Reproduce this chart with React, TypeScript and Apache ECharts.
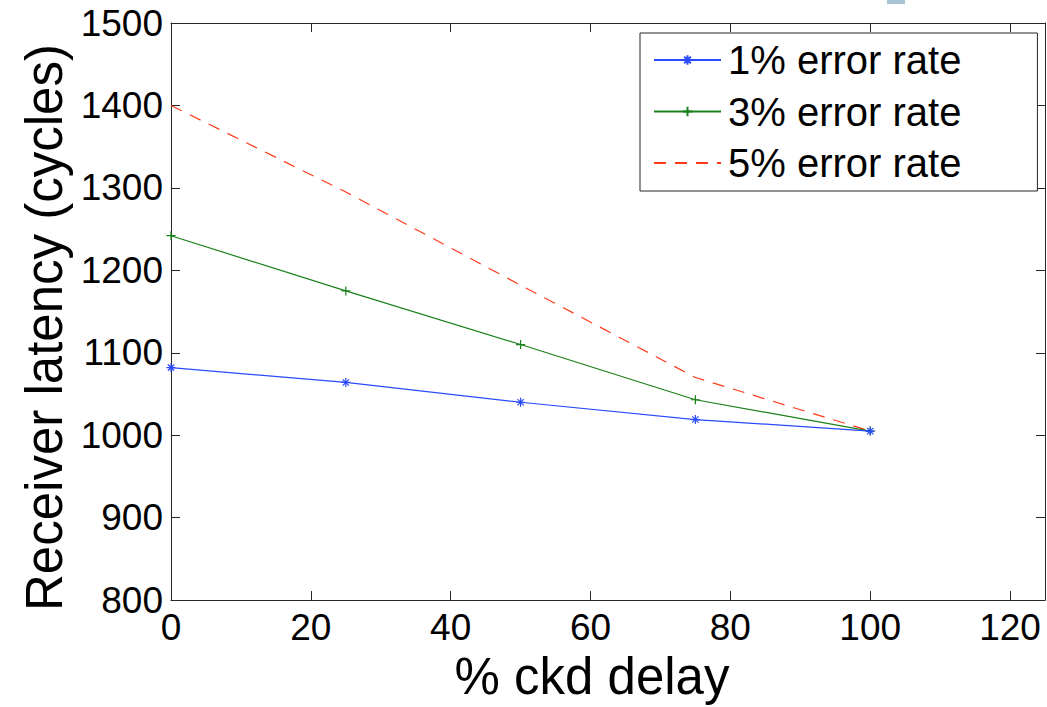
import React, { useEffect, useRef } from "react";
import * as echarts from "echarts";

const xValues = [0, 25, 50, 75, 100];
const err1 = [1082, 1064, 1040, 1019, 1005];
const err3 = [1242, 1175, 1110, 1043, 1005];
const err5 = [1400, 1295, 1182, 1070, 1005];
const seriesNames = ["1% error rate", "3% error rate", "5% error rate"];
const xTicks = [0, 20, 40, 60, 80, 100, 120];
const xTitle = "% ckd delay";
const yTitle = "Receiver latency (cycles)";

const FONT = "'Liberation Sans', Arial, Helvetica, sans-serif";
const AXIS_COLOR = "#262626";
const BLUE = "#2a4bff";
const GREEN = "#1a801a";
const RED = "#ff3a1a";

const ASTERISK = "path://M5,0L5,10M0,5L10,5M1.5,1.5L8.5,8.5M1.5,8.5L8.5,1.5";
const PLUS = "path://M5,0L5,10M0,5L10,5";

function pairs(ys: number[]) {
  return xValues.map((x, i) => [x, ys[i]]);
}

export default function App() {
  const ref = useRef<HTMLDivElement>(null);
  useEffect(() => {
    if (!ref.current) return;
    const chart = echarts.init(ref.current, null, { renderer: "svg" });
    const grid = { left: 171, right: 2, top: 23, bottom: 103, containLabel: false };
    const tickStyle = { inside: true, length: 9, lineStyle: { color: AXIS_COLOR, width: 1 } };
    chart.setOption({
      animation: false,
      backgroundColor: "#ffffff",
      textStyle: { fontFamily: FONT },
      grid,
      legend: {
        left: 640,
        top: 33,
        orient: "vertical",
        data: [
          { name: seriesNames[0] },
          { name: seriesNames[1] },
          { name: seriesNames[2], itemStyle: { opacity: 0 } },
        ],
        itemWidth: 67,
        itemHeight: 12,
        itemGap: 11.5,
        padding: [7, 76, 8, 13],
        borderColor: AXIS_COLOR,
        borderWidth: 1,
        backgroundColor: "#ffffff",
        textStyle: { fontFamily: FONT, fontSize: 40, color: "#000", lineHeight: 40, padding: [0, 0, 0, 2] },
      },
      xAxis: [
        {
          type: "value",
          min: 0,
          max: 125,
          interval: 20,
          position: "bottom",
          name: xTitle,
          nameLocation: "middle",
          nameGap: 45,
          nameTextStyle: { fontFamily: FONT, fontSize: 51, color: "#000", padding: [0, 32, 0, 0] },
          axisLine: { show: true, onZero: false, lineStyle: { color: AXIS_COLOR, width: 1 } },
          axisTick: { ...tickStyle, customValues: xTicks },
          axisLabel: { fontFamily: FONT, fontSize: 37, color: "#000", margin: 9, customValues: xTicks },
          splitLine: { show: false },
        },
        {
          type: "value",
          min: 0,
          max: 125,
          interval: 20,
          position: "top",
          axisLine: { show: true, onZero: false, lineStyle: { color: AXIS_COLOR, width: 1 } },
          axisTick: { ...tickStyle, customValues: xTicks },
          axisLabel: { show: false },
          splitLine: { show: false },
        },
      ],
      yAxis: [
        {
          type: "value",
          min: 800,
          max: 1500,
          interval: 100,
          position: "left",
          name: yTitle,
          nameLocation: "middle",
          nameGap: 98,
          nameRotate: 90,
          nameTextStyle: { fontFamily: FONT, fontSize: 51, color: "#000", padding: [0, 32, 0, 0] },
          axisLine: { show: true, onZero: false, lineStyle: { color: AXIS_COLOR, width: 1 } },
          axisTick: tickStyle,
          axisLabel: {
            fontFamily: FONT,
            fontSize: 37,
            color: "#000",
            margin: 8,
            formatter: (v: number) => String(v),
          },
          splitLine: { show: false },
        },
        {
          type: "value",
          min: 800,
          max: 1500,
          interval: 100,
          position: "right",
          axisLine: { show: true, onZero: false, lineStyle: { color: AXIS_COLOR, width: 1 } },
          axisTick: tickStyle,
          axisLabel: { show: false },
          splitLine: { show: false },
        },
      ],
      graphic: [
        {
          type: "rect",
          shape: { x: 887, y: 0, width: 18, height: 4 },
          style: { fill: "#a9c3d6" },
        },
      ],
      series: [
        {
          name: seriesNames[0],
          type: "line",
          data: pairs(err1),
          symbol: ASTERISK,
          symbolSize: 9,
          color: BLUE,
          lineStyle: { color: BLUE, width: 1.2 },
          itemStyle: { color: "none", borderColor: BLUE, borderWidth: 1.2 },
          z: 4,
        },
        {
          name: seriesNames[1],
          type: "line",
          data: pairs(err3),
          symbol: PLUS,
          symbolSize: 9,
          color: GREEN,
          lineStyle: { color: GREEN, width: 1.2 },
          itemStyle: { color: "none", borderColor: GREEN, borderWidth: 1.2 },
          z: 3,
        },
        {
          name: seriesNames[2],
          type: "line",
          data: pairs(err5),
          symbol: "none",
          showSymbol: false,
          color: RED,
          lineStyle: { color: RED, width: 1.2, type: [12, 9] },
          z: 2,
        },
      ],
    });
    return () => chart.dispose();
  }, []);
  return (
    <div
      ref={ref}
      style={{ position: "fixed", left: 0, top: 0, width: 1047, height: 707, background: "#fff" }}
    />
  );
}
